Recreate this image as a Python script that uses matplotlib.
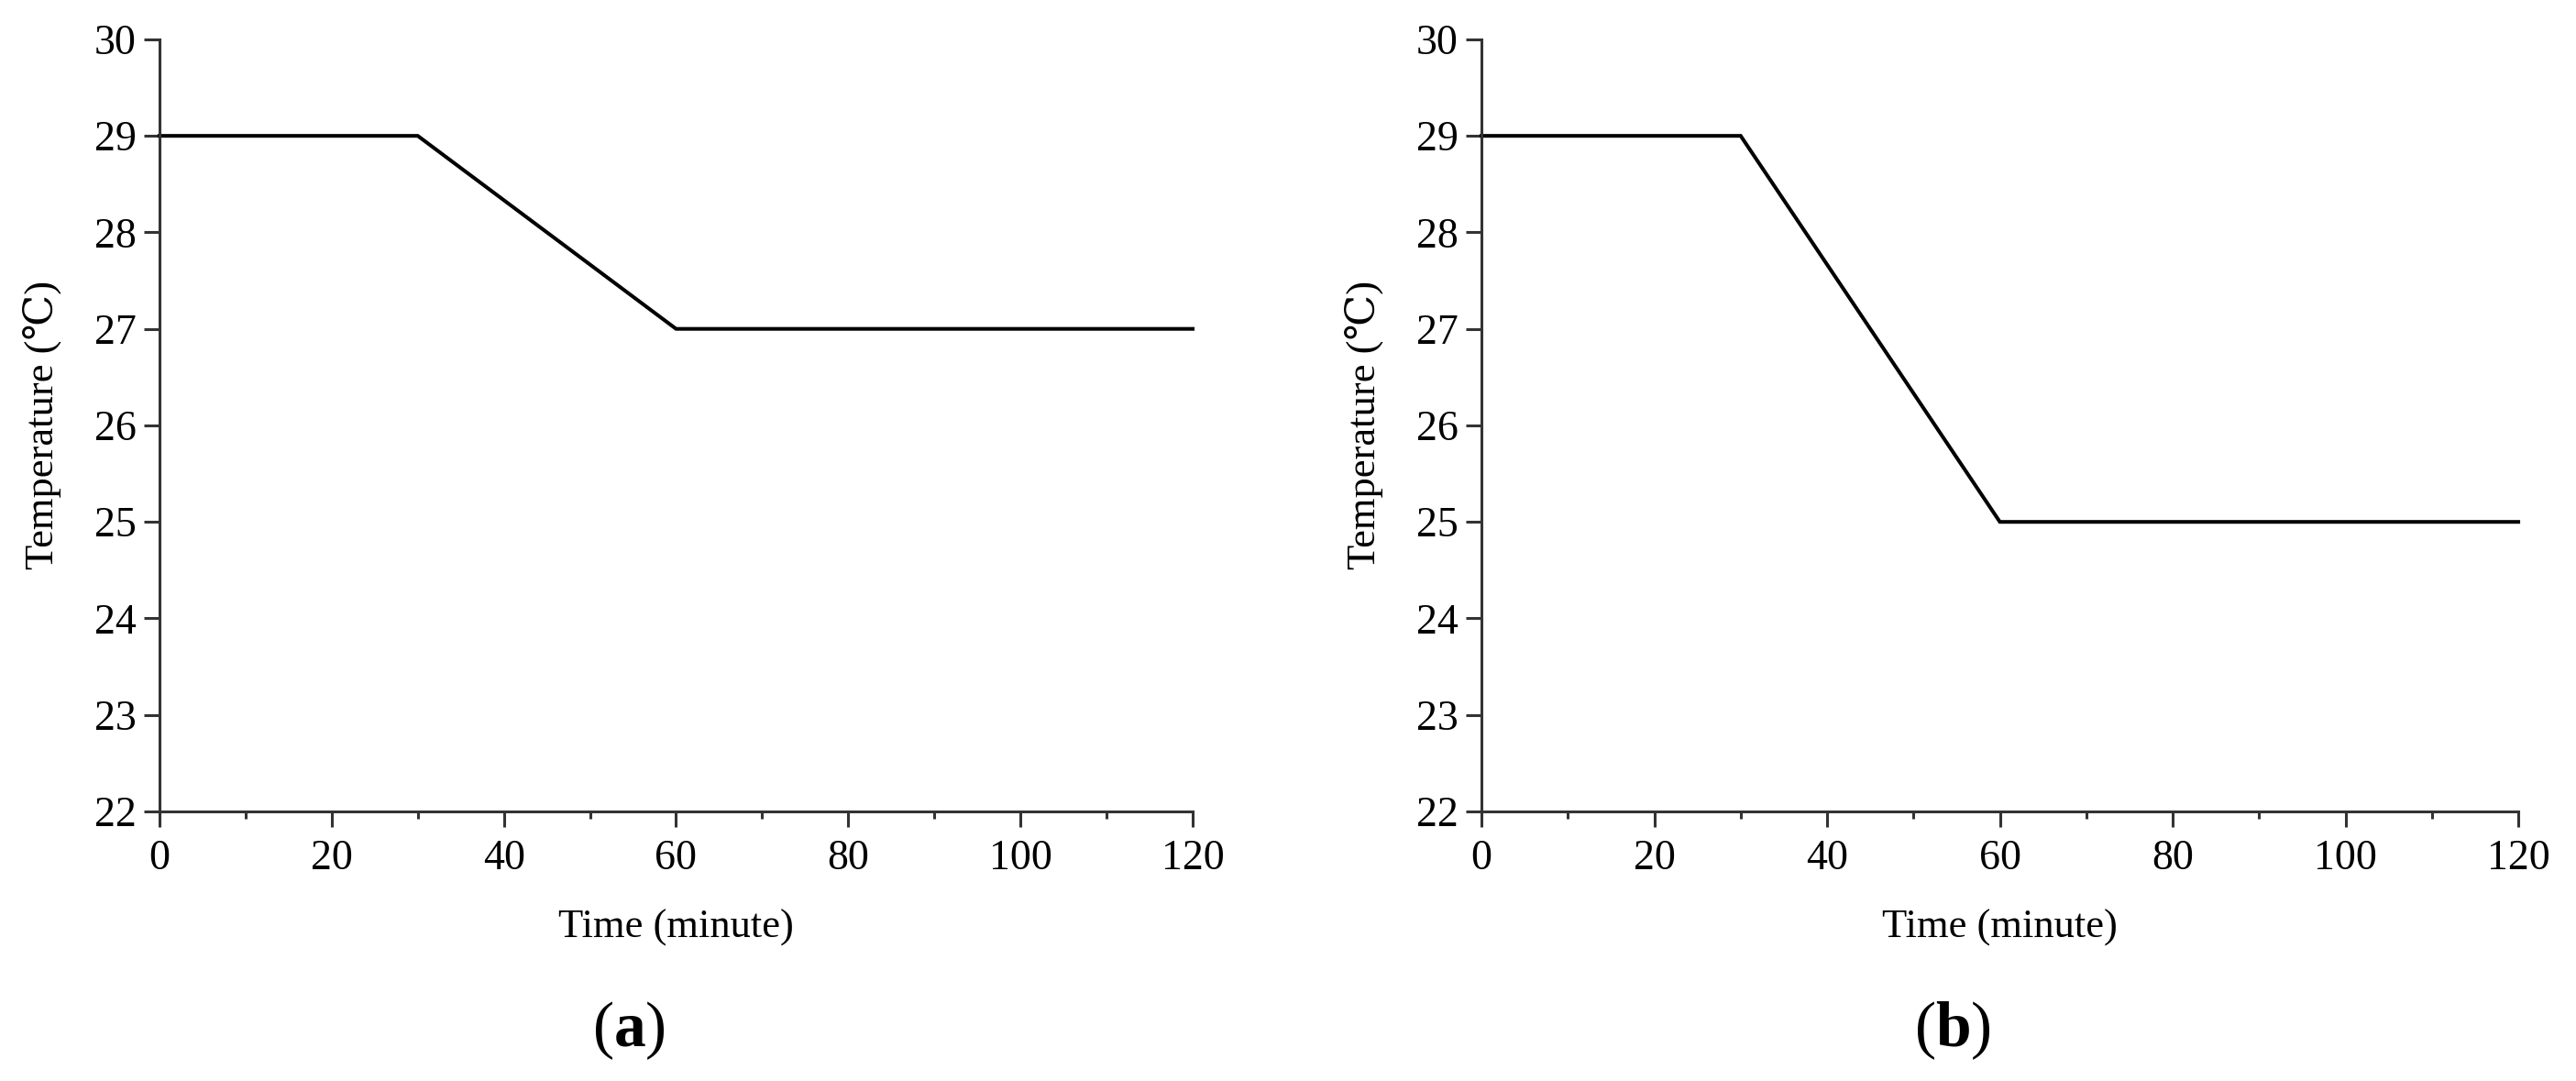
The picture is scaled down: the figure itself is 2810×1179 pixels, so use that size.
import matplotlib
matplotlib.use('Agg')
import matplotlib.pyplot as plt
from matplotlib.ticker import MultipleLocator

plt.rcParams['font.family'] = ['Liberation Serif', 'DejaVu Serif']
plt.rcParams['mathtext.fontset'] = 'custom'
plt.rcParams['mathtext.rm'] = 'Liberation Serif'
plt.rcParams['mathtext.bf'] = 'Liberation Serif:bold'

# temperature schedule, minutes vs degrees C
time_a = [0, 30, 60, 120]
temp_a = [29, 29, 27, 27]
time_b = [0, 30, 60, 120]
temp_b = [29, 29, 25, 25]
x_ticks = [0, 20, 40, 60, 80, 100, 120]
y_ticks = [22, 23, 24, 25, 26, 27, 28, 29, 30]
panel_names = ['a', 'b']

fig = plt.figure(figsize=(28.1, 11.79), dpi=100)

axes_pos = [[0.0619, 0.2494, 0.4011, 0.7142],
            [0.5751, 0.2494, 0.4025, 0.7142]]
label_x = [0.244, 0.758]

for i, (tx, ty) in enumerate([(time_a, temp_a), (time_b, temp_b)]):
    ax = fig.add_axes(axes_pos[i])
    ax.plot(tx, ty, color='black', lw=2.9, clip_on=False, solid_joinstyle='miter')
    ax.set_xlim(0, 120)
    ax.set_ylim(22, 30)
    ax.set_xticks(x_ticks)
    ax.set_yticks(y_ticks)
    ax.xaxis.set_minor_locator(MultipleLocator(10))
    for s in ['top', 'right']:
        ax.spines[s].set_visible(False)
    for s in ['left', 'bottom']:
        ax.spines[s].set_linewidth(2.2)
        ax.spines[s].set_color('#333333')
    ax.tick_params(axis='both', which='major', direction='out', length=12,
                   width=2.2, color='#333333', labelsize=33)
    ax.tick_params(axis='x', which='minor', direction='out', length=6,
                   width=2.2, color='#333333')
    ax.tick_params(axis='x', which='major', pad=10)
    ax.tick_params(axis='y', which='major', pad=6)
    ax.set_xlabel('Time (minute)', fontsize=32)
    ax.set_ylabel('Temperature (℃)', fontsize=32)
    ax.xaxis.set_label_coords(0.5, -0.127)
    ax.yaxis.set_label_coords(-0.094, 0.5)
    fig.text(label_x[i], 0.0467, r'($\mathbf{%s}$)' % panel_names[i],
             fontsize=50, ha='center', va='center')

fig.savefig('out.png', dpi=100)
